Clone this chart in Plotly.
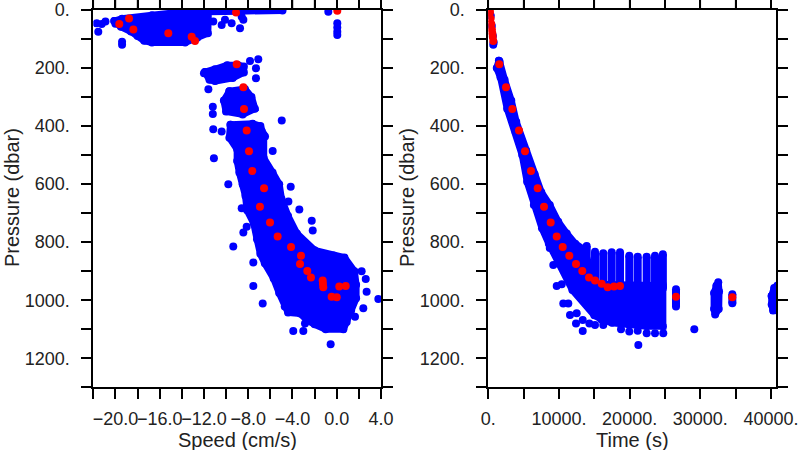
import plotly.graph_objects as go

# ---------------- data ----------------
# red: binned mean profile
mean_pressure = [3, 9, 29, 48, 67, 80, 92, 107, 187, 266, 341, 415, 487, 555, 614, 678, 732,
                 780, 817, 847, 875, 899, 922, 932, 943, 955, 953, 951, 988, 990]
mean_speed = [0.05, -9.1, -18.77, -19.65, -18.38, -15.22, -13.11, -12.81, -9.04, -8.44, -8.38,
              -8.14, -7.93, -7.63, -6.57, -6.94, -6.03, -5.34, -4.13, -3.23, -3.32, -2.66, -2.33,
              -1.27, -1.25, -1.22, 0.23, 0.81, -0.46, 0.0]
mean_time = [200, 230, 330, 420, 510, 570, 630, 700, 1557, 2505, 3396, 4344, 5193, 6042, 6990,
             7882, 8830, 9679, 10527, 11462, 12410, 13301, 14249, 15098, 16046, 16895, 17787,
             18636, 26560, 34526]

# blue: dense clouds of samples (outline of each dense cloud, speed vs pressure)
top_cloud_speed = [-20.1, -19.4, -16.7, -13.5, -4.9, -11.6, -11.65, -12.6, -13.7, -16.7, -17.4,
                   -18.0, -18.6, -19.5, -20.0]
top_cloud_pres = [38, 30, 18, 5, 2, 6, 80, 96, 112, 112, 106, 90, 74, 58, 47]

seg1_speed = [-11.9, -11.5, -11.0, -9.4, -8.4, -8.4, -8.9, -9.9, -11.0]
seg1_pres = [214, 240, 245, 234, 215, 195, 190, 190, 204]

seg2_speed = [-9.7, -8.3, -7.7, -7.4, -8.5, -10.0, -10.2]
seg2_pres = [280, 272, 300, 340, 360, 350, 312]

low_cloud_speed = [-9.6, -9.7, -9.0, -9.0, -8.8, -8.5, -8.25, -8.1, -7.5, -7.2, -6.9, -6.5, -5.7,
                   -5.2, -4.7, -4.4, -3.3, -2.7, -2.0, -1.0, 0.6, 0.9, 1.3, 1.75, 1.75, 1.6, 0.7,
                   -0.3, -2.0, -3.6, -4.4, -5.0, -5.2, -5.8, -6.6, -6.6, -6.9, -7.6]
low_cloud_pres = [395, 440, 480, 520, 560, 600, 640, 690, 735, 790, 840, 873, 925, 975, 1022,
                  1042, 1046, 1068, 1083, 1100, 1100, 1075, 1035, 993, 947, 900, 853, 846, 828,
                  770, 710, 650, 600, 560, 510, 430, 400, 392]

# blue: isolated samples, speed vs pressure
out_speed = [-21.7, -21.24, -21.55, -20.9, -19.4, -19.4, -11.16, -10.4, -9.5, -8.74, -8.44, -10.1,
             -8.59, -0.76, 0.05, 0.05, 0.05, 0.05, -7.09, -7.84, -7.3, -7.3, -11.6, -12.0,
             -11.2, -11.2, -4.97, -11.16, -10.4, -11.1, -9.8, -8.59, -8.44, -8.14, -9.35,
             -7.54, -7.54, -6.69, -3.93, -3.02, -2.87, -0.55, 2.25, 2.62, 2.7, 2.4, 1.65, 3.76,
             -4.16, -4.37, -3.38, -2.26, -2.17, -5.79, -6.78, -6.48]
out_pres = [46, 48, 75, 40, 109, 120, 40, 52, 46, 63, 34, 34,
            23, 6, 46, 60, 75, 86, 170, 176, 201, 235, 273, 218,
            333, 358, 381, 411, 419, 511, 600, 683, 767, 747, 815,
            870, 951, 1011, 1106, 1106, 1080, 1152, 900, 927, 971, 1028, 1057, 996,
            609, 660, 687, 726, 760, 486, 419, 436]

# blue: time vs pressure clouds
band_time = [1500, 1600, 2300, 3250, 3950, 5350, 6550, 7500, 8700, 9900, 11100, 12300, 13600,
             14500, 15100, 24700, 24700, 22410, 19950, 17500, 16000, 15000, 11900, 8700, 8570,
             7600, 6450, 5500, 4800, 3860, 2670, 1730, 1200]
band_pres = [175, 178, 240, 312, 385, 484, 566, 628, 672, 730, 770, 805, 827,
             900, 945, 950, 1090, 1090, 1085, 1078, 1066, 1052, 965, 820, 805,
             752, 672, 592, 500, 420, 340, 232, 200]

cluster32_time = [32300, 32540, 32650, 32600, 32100, 31950, 31950]
cluster32_pres = [950, 938, 970, 1030, 1049, 1030, 975]

cluster40_time = [40100, 40450, 40900, 40900, 40300, 40100]
cluster40_pres = [985, 958, 950, 1035, 1035, 1015]

# vertical stacks of samples at fixed times
col_time = [13920, 15100, 16270, 17460, 18640, 19950, 21140, 22410, 23590, 24700, 26560, 34530]
col_top = [813, 833, 838, 835, 835, 847, 850, 850, 847, 842, 962, 979]
col_bottom = [960, 960, 960, 960, 960, 960, 960, 960, 960, 960, 1022, 1010]

tout_time = [350, 500, 650, 760, 700, 9200, 9680, 10390, 10610, 11320, 11560, 12510, 12410,
             13360, 13360, 14300, 15100, 16270, 18780, 19950, 21140, 21230, 22410, 23590,
             24760, 29150]
tout_pres = [20, 55, 90, 112, 120, 879, 951, 945, 1011, 1011, 1051, 1045, 1080,
             1106, 1068, 1080, 1085, 1085, 1100, 1108, 1105, 1154, 1114, 1114,
             1114, 1100]

# tick labels
p_ticks = [0, 200, 400, 600, 800, 1000, 1200]
p_labels = ["0.", "200.", "400.", "600.", "800.", "1000.", "1200."]
s_ticks = [-20, -16, -12, -8, -4, 0, 4]
s_labels = ["\u221220.0", "\u221216.0", "\u221212.0", "\u22128.0", "\u22124.0", "0.0", "4.0"]
t_ticks = [0, 10000, 20000, 30000, 40000]
t_labels = ["0.", "10000.", "20000.", "30000.", "40000."]
s_minor_step = 2
t_minor_step = 5000

# ---------------- figure ----------------
BLUE = "#0000ff"
RED = "#ff0000"
FONT = "Liberation Sans, Arial, sans-serif"
TXT = "#222222"
W, H = 800, 450
S_RANGE = [-22, 4]
T_RANGE = [0, 40710]
P_RANGE = [1300, 0]
fig = go.Figure()


def blob(x, y, xa, ya):
    fig.add_trace(go.Scatter(
        x=list(x) + [x[0]], y=list(y) + [y[0]], xaxis=xa, yaxis=ya,
        mode="lines+markers", fill="toself", fillcolor=BLUE,
        line=dict(color=BLUE, width=7), marker=dict(color=BLUE, size=8),
        hoverinfo="skip", showlegend=False))


def dots(x, y, xa, ya, color):
    fig.add_trace(go.Scatter(
        x=x, y=y, xaxis=xa, yaxis=ya, mode="markers",
        marker=dict(color=color, size=8, line=dict(width=0)),
        hoverinfo="skip", showlegend=False))


# left panel
for xs, ys in [(top_cloud_speed, top_cloud_pres), (seg1_speed, seg1_pres),
               (seg2_speed, seg2_pres), (low_cloud_speed, low_cloud_pres)]:
    blob(xs, ys, "x", "y")
dots(out_speed, out_pres, "x", "y", BLUE)
dots(mean_speed, mean_pressure, "x", "y", RED)

# right panel
for xs, ys in [(band_time, band_pres), (cluster32_time, cluster32_pres),
               (cluster40_time, cluster40_pres)]:
    blob(xs, ys, "x2", "y2")
cx, cy = [], []
for t, a, b in zip(col_time, col_top, col_bottom):
    cx += [t, t, None]
    cy += [a, b, None]
fig.add_trace(go.Scatter(x=cx, y=cy, xaxis="x2", yaxis="y2", mode="lines+markers",
                         line=dict(color=BLUE, width=8), marker=dict(color=BLUE, size=8),
                         hoverinfo="skip", showlegend=False))
dots(tout_time, tout_pres, "x2", "y2", BLUE)
dots(mean_time, mean_pressure, "x2", "y2", RED)

axis_common = dict(showline=True, linecolor="black", linewidth=2, mirror="allticks",
                   ticks="outside", ticklen=10, tickwidth=1.5, tickcolor="black",
                   showgrid=False, zeroline=False, automargin=False, tickangle=0,
                   tickfont=dict(family=FONT, size=18, color=TXT))
minor_common = dict(ticks="outside", ticklen=10, tickwidth=1.5, tickcolor="black", showgrid=False)


def px_x(sx):
    return sx / W


def px_y(sy):
    return 1 - sy / H


TOP = 10
ydom = [px_y(387.3), px_y(TOP)]
xdom1 = [px_x(93.3), px_x(381)]
xdom2 = [px_x(488.3), px_x(776)]
fig.update_layout(
    width=W, height=H, margin=dict(l=0, r=0, t=0, b=0),
    paper_bgcolor="white", plot_bgcolor="white", showlegend=False,
    xaxis=dict(axis_common, domain=xdom1, range=S_RANGE,
               tickmode="array", tickvals=s_ticks, ticktext=s_labels, ticklabelstandoff=4,
               minor=dict(minor_common, dtick=s_minor_step, tick0=S_RANGE[0]), anchor="y"),
    yaxis=dict(axis_common, domain=ydom, range=P_RANGE, tickmode="array",
               tickvals=p_ticks, ticktext=p_labels, ticklabelstandoff=8,
               minor=dict(minor_common, dtick=100, tick0=0), anchor="x"),
    xaxis2=dict(axis_common, domain=xdom2, range=T_RANGE,
                tickmode="array", tickvals=t_ticks, ticktext=t_labels, ticklabelstandoff=4,
                minor=dict(minor_common, dtick=t_minor_step, tick0=0), anchor="y2"),
    yaxis2=dict(axis_common, domain=ydom, range=P_RANGE, tickmode="array",
                tickvals=p_ticks, ticktext=p_labels, ticklabelstandoff=8,
                minor=dict(minor_common, dtick=100, tick0=0), anchor="x2"),
)

# tick marks along the top frame of each panel (paper-referenced so they are not clipped)
def tick_positions(rng, step, dom):
    out = []
    v = rng[0]
    while v <= rng[1] + 1e-9:
        out.append(dom[0] + (v - rng[0]) / (rng[1] - rng[0]) * (dom[1] - dom[0]))
        v += step
    return out


for xp in tick_positions(S_RANGE, s_minor_step, xdom1) + tick_positions(T_RANGE, t_minor_step, xdom2):
    fig.add_shape(type="line", xref="paper", yref="paper", x0=xp, x1=xp,
                  y0=px_y(TOP), y1=1.0, line=dict(color="black", width=1.5), layer="above")

title_font = dict(family=FONT, size=20, color=TXT)
for text, x, y, ang in [("Pressure (dbar)", 12, 198, -90), ("Pressure (dbar)", 407, 198, -90),
                        ("Speed (cm/s)", 237, 440, 0), ("Time (s)", 632, 440, 0)]:
    fig.add_annotation(text=text, xref="paper", yref="paper", x=px_x(x), y=px_y(y),
                       xanchor="center", yanchor="middle", showarrow=False,
                       textangle=ang, font=title_font)

# remove the browser's default 8 px body margin so the figure fills the window
fig.write_html("out.html", config={"displayModeBar": False},
               post_script="document.body.style.margin='0';")
